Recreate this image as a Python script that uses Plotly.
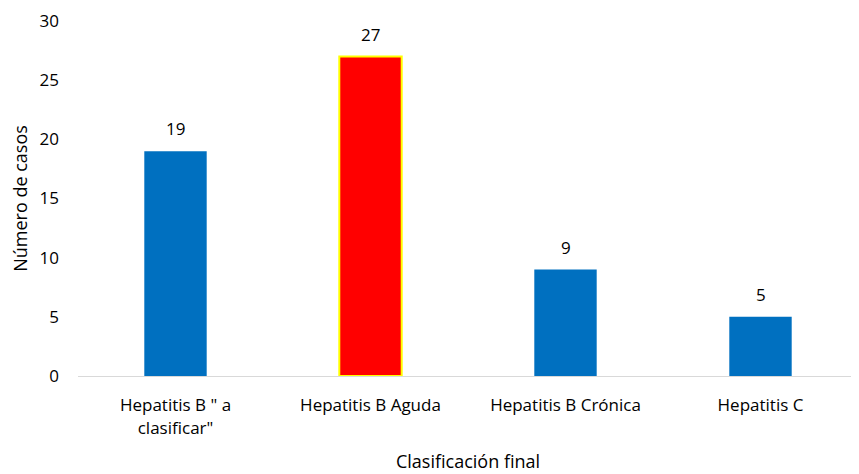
import plotly.graph_objects as go

categories = ['Hepatitis B " a<br>clasificar"', "Hepatitis B Aguda", "Hepatitis B Crónica", "Hepatitis C"]
values = [19, 27, 9, 5]
colors = ["#0070C0", "#FF0000", "#0070C0", "#0070C0"]
line_colors = ["#0070C0", "#FFFF00", "#0070C0", "#0070C0"]
line_widths = [0, 2, 0, 0]

fig = go.Figure(go.Bar(
    x=categories, y=values,
    marker=dict(color=colors, line=dict(color=line_colors, width=line_widths)),
    width=0.32,
))

for c, v in zip(categories, values):
    fig.add_annotation(x=c, y=v, text=str(v), showarrow=False,
                       yanchor="bottom", yshift=9,
                       font=dict(size=17, color="#000000"))

font = "Open Sans, Carlito, Calibri, sans-serif"
fig.update_layout(
    width=851, height=466,
    margin=dict(l=70, r=1, t=13, b=98),
    paper_bgcolor="white", plot_bgcolor="white",
    font=dict(family=font, size=16, color="#000000"),
    showlegend=False,
    xaxis=dict(
        automargin=False,
        showline=True, linecolor="#D9D9D9", linewidth=1,
        ticks="", tickfont=dict(size=17), ticklabelstandoff=14,
        title=dict(text="Clasificación final", font=dict(size=18), standoff=17),
    ),
    yaxis=dict(
        automargin=False, ticklabeloverflow="allow",
        range=[0, 30], dtick=5, showgrid=False, zeroline=False, showline=False,
        tickfont=dict(size=17), ticks="", ticklabelstandoff=18,
        title=dict(text="Número de casos", font=dict(size=18), standoff=12),
    ),
)
fig.write_html("out.html")
